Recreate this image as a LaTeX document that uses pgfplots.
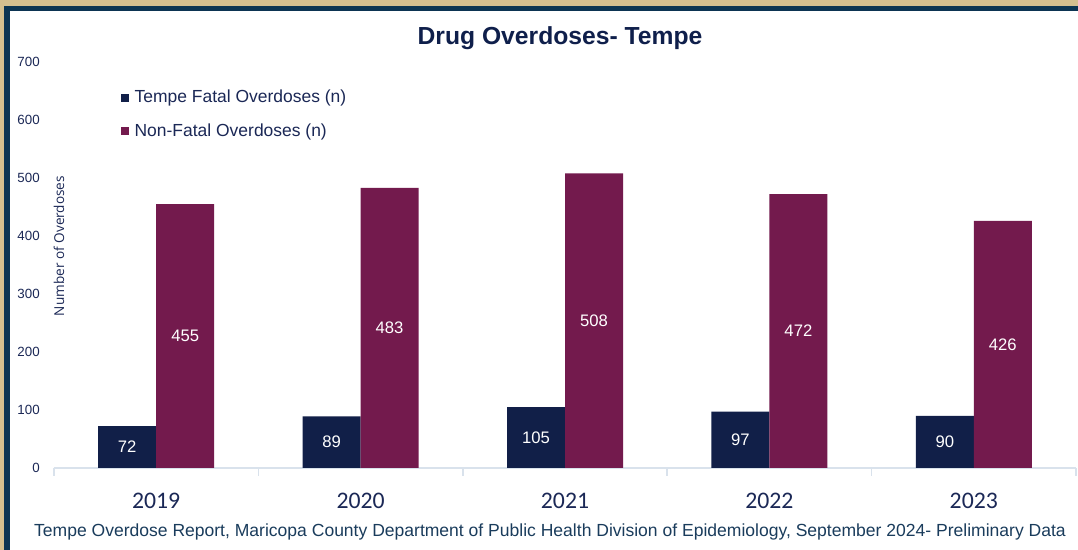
\documentclass[border=0pt]{standalone}
\usepackage{fontspec}
\setmainfont{Liberation Sans}
\newfontfamily\yearfont{Carlito}
\newfontfamily\labfont{Open Sans}
\usepackage{graphicx}
\usepackage{pgfplots}
\pgfplotsset{compat=1.18}
\definecolor{fatal}{HTML}{111F48}
\definecolor{nonfatal}{HTML}{731A4D}
\definecolor{gold}{HTML}{D5BF8F}
\definecolor{frame}{HTML}{0C3452}
\definecolor{axisgray}{HTML}{D9E2EC}
\definecolor{navytext}{HTML}{1B2856}
\definecolor{foot}{HTML}{1A3C5C}
\definecolor{titlecol}{HTML}{0F1F4B}

\begin{document}
\scalebox{1.338333}{%
\begin{tikzpicture}
\fill[white] (-40.5pt,-61.5pt) rectangle (768pt,351pt);
\begin{axis}[
  scale only axis,
  width=766.5pt, height=304.5pt,
  ymin=0, ymax=700,
  xmin=-0.5, xmax=4.5,
  ybar=0pt, bar width=43.5pt,
  axis x line*=bottom,
  axis y line*=left,
  x axis line style={draw=axisgray, line width=1.1pt, -},
  y axis line style={draw=none},
  ytick={0,100,...,700},
  xtick={0,...,4},
  xticklabels={2019,2020,2021,2022,2023},
  minor xtick={-0.5,0.5,...,4.5},
  major tick length=0pt,
  minor tick length=6pt,
  tick align=outside,
  minor x tick style={draw=axisgray, line width=1.1pt},
  xticklabel style={font=\yearfont\fontsize{17.8}{20}\selectfont, text=navytext, anchor=center, yshift=-24.75pt},
  yticklabel style={font=\fontsize{10}{12}\selectfont, text=navytext, anchor=east, inner sep=0pt, xshift=-10.5pt},
  /pgf/number format/assume math mode=true,
  nodes near coords,
  visualization depends on=y \as \rawy,
  every node near coord/.append style={font=\fontsize{12.5}{14}\selectfont, text=white, anchor=center, shift={(axis direction cs:0,-\rawy/2)}},
  legend style={at={(0.0656,0.871)}, anchor=west, draw=none, fill=none, inner sep=0pt,
    font=\fontsize{13.1}{15}\selectfont, text=navytext, row sep=14.3pt,
    nodes={inner sep=0pt}},
  legend cell align=left,
  legend image code/.code={\fill[#1] (0pt,-3pt) rectangle (6pt,3pt);},
]
\addplot[fill=fatal, draw=none] coordinates {(0,72) (1,89) (2,105) (3,97) (4,90)};
\addlegendentry{\hspace{4pt}Tempe Fatal Overdoses (n)}
\addplot[fill=nonfatal, draw=none] coordinates {(0,455) (1,483) (2,508) (3,472) (4,426)};
\addlegendentry{\hspace{4pt}Non-Fatal Overdoses (n)}
\end{axis}
\begin{scope}[shift={(-40.5pt,351pt)}, x=0.75pt, y=-0.75pt]
  \fill[gold] (0,0) rectangle (1078,6);
  \fill[gold] (0,0) rectangle (4,550);
  \fill[frame] (4,6) rectangle (1078,11);
  \fill[frame] (4,6) rectangle (10,550);
  \node[font=\bfseries\fontsize{18.5}{22}\selectfont, text=titlecol] at (560,38) {Drug Overdoses- Tempe};
  \node[font=\labfont\fontsize{10.2}{12}\selectfont, text=navytext, rotate=90] at (59,246) {Number of Overdoses};
  \node[font=\fontsize{13.15}{15}\selectfont, text=foot] at (550,532) {Tempe Overdose Report, Maricopa County Department of Public Health Division of Epidemiology, September 2024- Preliminary Data};
  \pgfresetboundingbox
  \path (0,0) rectangle (1078,550);
\end{scope}
\end{tikzpicture}}
\end{document}
